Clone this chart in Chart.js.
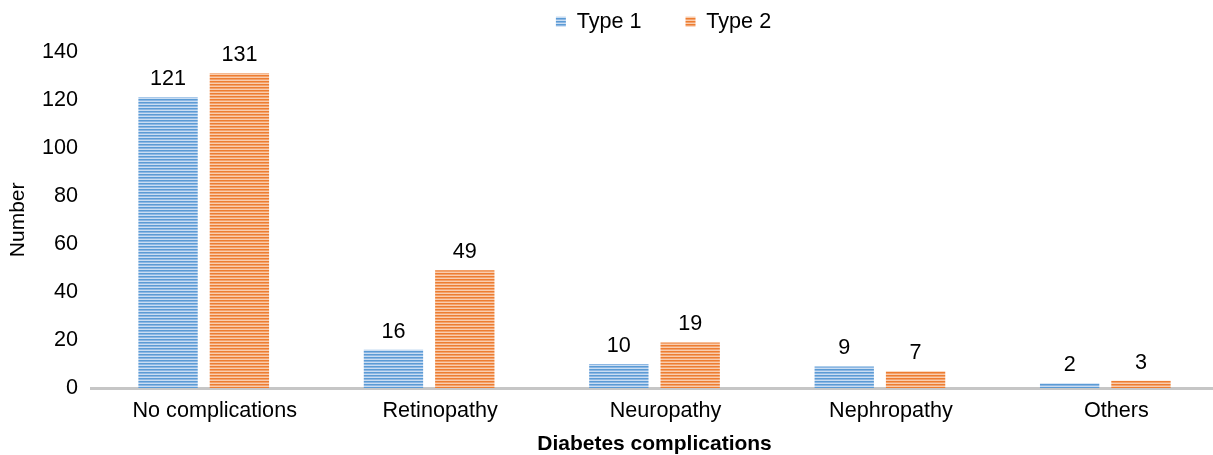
<!DOCTYPE html>
<html>
<head>
<meta charset="utf-8">
<script src="https://cdn.jsdelivr.net/npm/chart.js@4"></script>
<style>
    html, body { margin: 0; padding: 0; background: #fff; overflow: hidden; }
    #box { width: 1220px; height: 455px; position: relative; }
</style>
</head>
<body>
<div id="box"><canvas id="myChart"></canvas></div>
<script>
// 類別與數值
const categories = ['No complications', 'Retinopathy', 'Neuropathy', 'Nephropathy', 'Others'];
const type1 = [121, 16, 10, 9, 2];
const type2 = [131, 49, 19, 7, 3];
const yTicks = [0, 20, 40, 60, 80, 100, 120, 140];

const ctx = document.getElementById('myChart');
const c2d = ctx.getContext('2d');

// 橫條紋填色
function stripes(rows) {
    const p = document.createElement('canvas');
    p.width = 4;
    p.height = rows.length;
    const g = p.getContext('2d');
    rows.forEach((col, i) => {
        g.fillStyle = col;
        g.fillRect(0, i, 4, 1);
    });
    return c2d.createPattern(p, 'repeat');
}
const blue = stripes(['#5B9BD5', '#8DB7E3', '#CADDF2']);
const orange = stripes(['#ED7D31', '#F3A26C', '#F9CDAF']);

const font = 'Liberation Sans, Arial, sans-serif';
const fs = 21.6;

// 數值標籤
const valueLabels = {
    id: 'valueLabels',
    afterDatasetsDraw(chart) {
        const g = chart.ctx;
        g.save();
        g.font = fs + 'px ' + font;
        g.fillStyle = '#000';
        g.textAlign = 'center';
        g.textBaseline = 'middle';
        chart.data.datasets.forEach((ds, i) => {
            chart.getDatasetMeta(i).data.forEach((bar, j) => {
                g.fillText(ds.data[j], bar.x, bar.y - 18);
            });
        });
        g.restore();
    }
};

// 圖例位置微調
const legendShift = {
    id: 'legendShift',
    afterLayout(chart) {
        const lg = chart.legend;
        lg.left += 9;
        lg.right += 9;
        lg.top -= 9;
        lg.bottom -= 9;
    }
};

const chart = new Chart(ctx, {
    type: 'bar',
    data: {
        labels: categories,
        datasets: [
            {
                label: 'Type 1      ',
                data: type1,
                backgroundColor: blue,
                categoryPercentage: 0.633,
                barPercentage: 0.832
            },
            {
                label: 'Type 2',
                data: type2,
                backgroundColor: orange,
                categoryPercentage: 0.633,
                barPercentage: 0.832
            }
        ]
    },
    options: {
        responsive: true,
        maintainAspectRatio: false,
        animation: false,
        layout: { padding: { top: 12, right: 2, left: 0, bottom: 0 } },
        plugins: {
            legend: {
                position: 'top',
                fullSize: false,
                labels: {
                    boxWidth: 10,
                    boxHeight: 10,
                    padding: 8,
                    color: '#000',
                    font: { family: font, size: fs }
                }
            },
            tooltip: { enabled: false }
        },
        scales: {
            x: {
                grid: { display: false, drawTicks: false },
                border: { display: true, color: '#C6C6C6', width: 3 },
                ticks: {
                    color: '#000',
                    padding: 10,
                    labelOffset: 11,
                    font: { family: font, size: fs }
                },
                title: {
                    display: true,
                    text: 'Diabetes complications',
                    color: '#000',
                    padding: { top: 0, bottom: 0 },
                    font: { family: font, size: 21, weight: 'bold', lineHeight: 1 }
                }
            },
            y: {
                min: 0,
                max: 140,
                afterBuildTicks(axis) {
                    axis.ticks = yTicks.map(v => ({ value: v }));
                },
                grid: { display: false, drawTicks: false },
                border: { display: false },
                ticks: {
                    color: '#000',
                    padding: 13,
                    font: { family: font, size: fs }
                },
                title: {
                    display: true,
                    text: 'Number',
                    color: '#000',
                    padding: { top: 8, bottom: 0 },
                    font: { family: font, size: 21, lineHeight: 1 }
                }
            }
        }
    },
    plugins: [valueLabels, legendShift]
});
</script>
</body>
</html>
